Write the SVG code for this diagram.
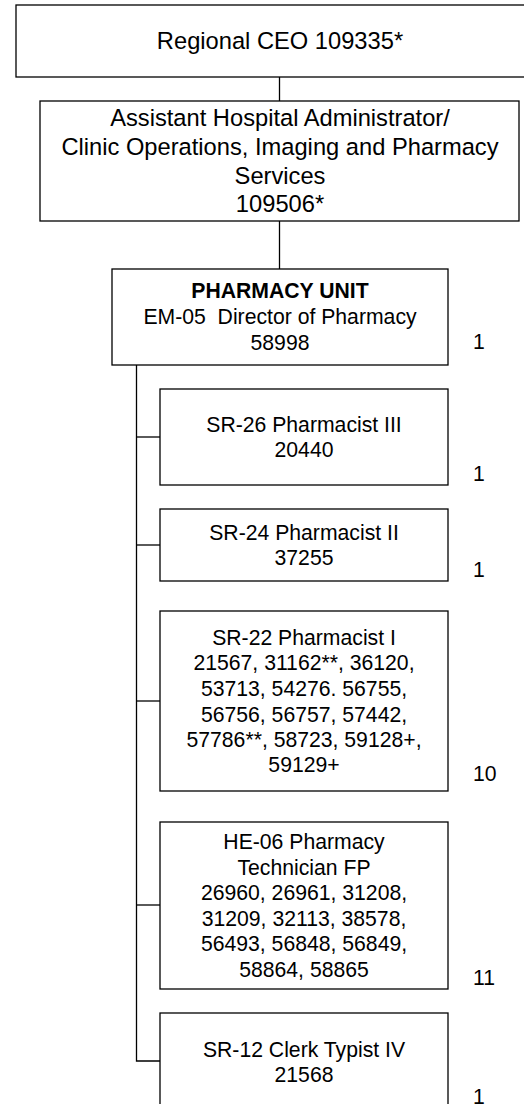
<svg xmlns="http://www.w3.org/2000/svg" width="524" height="1104" viewBox="0 0 524 1104">
<style>
.box{fill:#fff;stroke:#000;stroke-width:1.3}
.ln{fill:none;stroke:#000;stroke-width:1.3}
text{font-family:"Liberation Sans",Arial,sans-serif;fill:#000}
.big{font-size:23.7px;text-anchor:middle}
.t{font-size:21.2px;text-anchor:middle}
.b{font-weight:bold}
.n{font-size:21.2px}
</style>
<rect width="524" height="1104" fill="#fff"/>
<g id="connectors">
<line class="ln" x1="279.5" y1="77" x2="279.5" y2="101"/>
<line class="ln" x1="279.5" y1="221" x2="279.5" y2="269"/>
<polyline class="ln" points="136.5,365 136.5,1061 160,1061"/>
<line class="ln" x1="136.5" y1="437" x2="160" y2="437"/>
<line class="ln" x1="136.5" y1="545" x2="160" y2="545"/>
<line class="ln" x1="136.5" y1="701" x2="160" y2="701"/>
<line class="ln" x1="136.5" y1="905" x2="160" y2="905"/>
</g>
<g id="ceo">
<rect class="box" x="16" y="5" width="520" height="72"/>
<text class="big" x="280" y="49">Regional CEO 109335*</text>
</g>
<g id="aha">
<rect class="box" x="40" y="101" width="479" height="120"/>
<text class="big" x="280" y="126">Assistant Hospital Administrator/</text>
<text class="big" x="280" y="155">Clinic Operations, Imaging and Pharmacy</text>
<text class="big" x="280" y="184">Services</text>
<text class="big" x="280" y="212">109506*</text>
</g>
<g id="pharmacy-unit">
<rect class="box" x="112" y="269" width="336" height="96"/>
<text class="t b" x="280" y="298">PHARMACY UNIT</text>
<text class="t" x="280" y="324" xml:space="preserve">EM-05  Director of Pharmacy</text>
<text class="t" x="280" y="350">58998</text>
<text class="n" x="473" y="349">1</text>
</g>
<g id="sr26">
<rect class="box" x="160" y="389" width="288" height="96"/>
<text class="t" x="304" y="432">SR-26 Pharmacist III</text>
<text class="t" x="304" y="457">20440</text>
<text class="n" x="473" y="481">1</text>
</g>
<g id="sr24">
<rect class="box" x="160" y="509" width="288" height="72"/>
<text class="t" x="304" y="540">SR-24 Pharmacist II</text>
<text class="t" x="304" y="565">37255</text>
<text class="n" x="473" y="577">1</text>
</g>
<g id="sr22">
<rect class="box" x="160" y="611" width="288" height="180"/>
<text class="t" x="304" y="645">SR-22 Pharmacist I</text>
<text class="t" x="304" y="670">21567, 31162**, 36120,</text>
<text class="t" x="304" y="696">53713, 54276. 56755,</text>
<text class="t" x="304" y="722">56756, 56757, 57442,</text>
<text class="t" x="304" y="747">57786**, 58723, 59128+,</text>
<text class="t" x="304" y="772">59129+</text>
<text class="n" x="473" y="781">10</text>
</g>
<g id="he06">
<rect class="box" x="160" y="822" width="288" height="167"/>
<text class="t" x="304" y="849">HE-06 Pharmacy</text>
<text class="t" x="304" y="875">Technician FP</text>
<text class="t" x="304" y="900">26960, 26961, 31208,</text>
<text class="t" x="304" y="926">31209, 32113, 38578,</text>
<text class="t" x="304" y="951">56493, 56848, 56849,</text>
<text class="t" x="304" y="977">58864, 58865</text>
<text class="n" x="473" y="985">11</text>
</g>
<g id="sr12">
<rect class="box" x="160" y="1013" width="288" height="100"/>
<text class="t" x="304" y="1057">SR-12 Clerk Typist IV</text>
<text class="t" x="304" y="1082">21568</text>
<text class="n" x="473" y="1104">1</text>
</g>
</svg>
